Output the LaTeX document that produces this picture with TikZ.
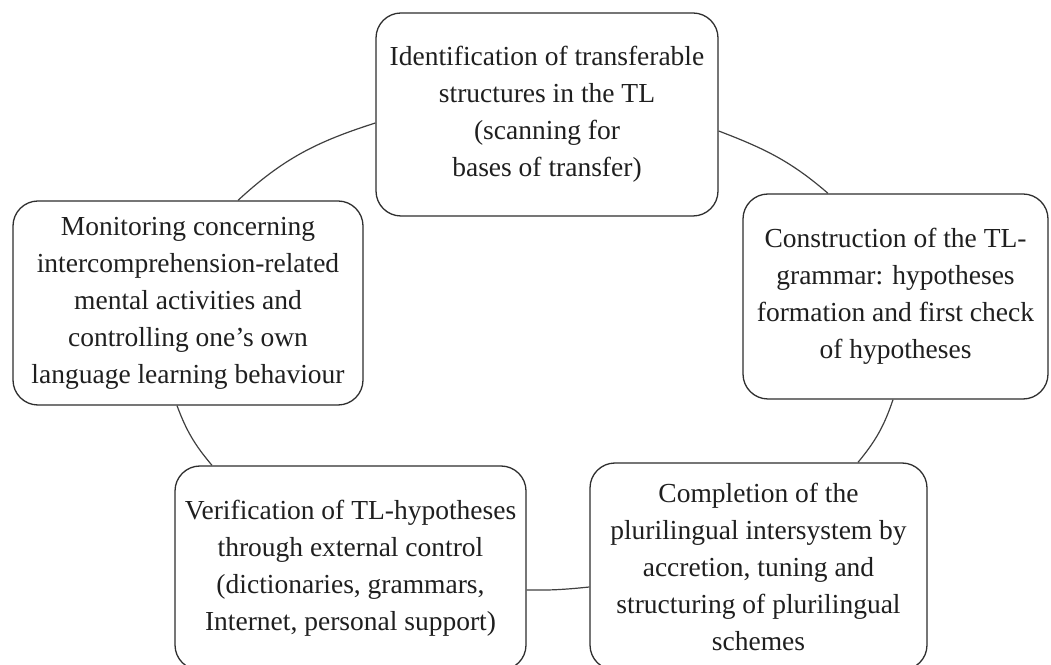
\documentclass[tikz,border=0pt]{standalone}
\usepackage{fontspec}
\setmainfont{Liberation Serif}
\begin{document}
\begin{tikzpicture}[x=1pt,y=1pt,
  box/.style={draw=black!82,line width=1.3pt,rounded corners=25pt,fill=white,
    align=center,inner sep=0pt,text=black!88,
    font=\fontsize{27.5}{37}\selectfont},
  link/.style={draw=black!75,line width=1.2pt}]
\useasboundingbox (0,0) rectangle (1051,664);
\clip (0,0) rectangle (1051,664);
% boxes (image y flipped: Y = 664 - y)
\node[box,minimum width=342pt,minimum height=203pt] (top) at (547,549.5)
  {Identification of transferable\\structures in the TL\\(scanning for\\bases of transfer)};
\node[box,minimum width=350pt,minimum height=204pt] (left) at (188,361)
  {Monitoring concerning\\intercomprehension-related\\mental activities and\\controlling one’s own\\language learning behaviour};
\node[box,minimum width=305pt,minimum height=205pt] (right) at (895.5,367.5)
  {Construction of the TL-\\grammar: hypotheses\\formation and first check\\of hypotheses};
\node[box,minimum width=351pt,minimum height=204pt] (verif) at (350.5,96)
  {Verification of TL-hypotheses\\through external control\\(dictionaries, grammars,\\Internet, personal support)};
\node[box,minimum width=337pt,minimum height=207pt] (compl) at (758.5,97.5)
  {Completion of the\\plurilingual intersystem by\\accretion, tuning and\\structuring of plurilingual\\schemes};
% connectors along an ellipse
\draw[link] ([yshift=-8.5pt]top.west) to[out=197.7,in=42.7] ([xshift=50pt]left.north);
\draw[link] ([yshift=-16.5pt]top.east) to[out=339.1,in=139.1] ([xshift=-67.5pt]right.north);
\draw[link] ([xshift=-2.5pt]right.south) to[out=251.3,in=50.5] ([xshift=99.5pt]compl.north);
\draw[link] ([yshift=-20.5pt]compl.west) to[out=185.8,in=359] ([yshift=-22pt]verif.east);
\draw[link] ([xshift=-138.5pt]verif.north) to[out=130.1,in=290.5] ([xshift=-11pt]left.south);
\end{tikzpicture}
\end{document}
